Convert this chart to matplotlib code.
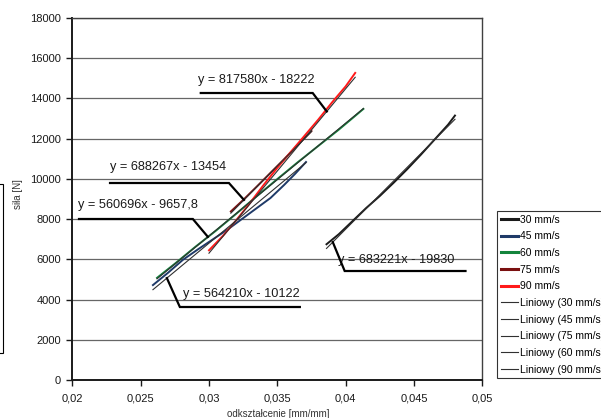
import numpy as np
import matplotlib.pyplot as plt
from matplotlib.patches import Rectangle

plt.rcParams['font.family'] = ['Liberation Sans', 'DejaVu Sans']

# measured series (strain [mm/mm], force [N])
x30 = [0.0386, 0.0395, 0.0405, 0.0415, 0.0425, 0.0435, 0.0445, 0.0455, 0.0465, 0.0475, 0.0480]
y30 = [6750, 7250, 7900, 8550, 9150, 9800, 10480, 11200, 11950, 12700, 13150]

x45 = [0.0259, 0.0270, 0.0281, 0.0292, 0.0303, 0.0314, 0.0325, 0.0336, 0.0345, 0.0355, 0.0363, 0.0371]
y45 = [4720, 5330, 5980, 6500, 7000, 7500, 8050, 8600, 9050, 9700, 10250, 10840]

x60 = [0.0262, 0.0275, 0.0290, 0.0305, 0.0320, 0.0335, 0.0350, 0.0365, 0.0380, 0.0395, 0.0405, 0.0413]
y60 = [5080, 5780, 6620, 7420, 8270, 9140, 9990, 10830, 11640, 12450, 13020, 13480]

x75 = [0.0316, 0.0325, 0.0335, 0.0345, 0.0355, 0.0365, 0.0375]
y75 = [8380, 8950, 9620, 10300, 10980, 11690, 12380]

x90 = [0.0300, 0.0310, 0.0320, 0.0330, 0.0340, 0.0350, 0.0360, 0.0370, 0.0380, 0.0390, 0.0400, 0.0407]
y90 = [6450, 7150, 7950, 8800, 9700, 10550, 11350, 12150, 12950, 13800, 14600, 15270]

labels = ['30 mm/s', '45 mm/s', '60 mm/s', '75 mm/s', '90 mm/s']
colors = ['#1a1a1a', '#1f3a68', '#13843c', '#7a1010', '#ff1a1a']

# linear trend lines: slope, intercept, label text
trend_order = ['30', '45', '75', '60', '90']
slopes = {'30': 683221, '45': 564210, '60': 560696, '75': 688267, '90': 817580}
intercepts = {'30': -19830, '45': -10122, '60': -9657.8, '75': -13454, '90': -18222}
eq_text = {'30': 'y = 683221x - 19830', '45': 'y = 564210x - 10122',
           '60': 'y = 560696x - 9657,8', '75': 'y = 688267x - 13454',
           '90': 'y = 817580x - 18222'}

# label boxes: text left x, text y, underline y, underline x0, x1, pointer x (on trend line)
label_pos = {
    '90': (0.0292, 14917, 14271, 0.0294, 0.03759, 0.03862, 'right'),
    '75': (0.02276, 10591, 9796, 0.02276, 0.03146, 0.03256, 'right'),
    '60': (0.02042, 8702, 8006, 0.02049, 0.02882, 0.02992, 'right'),
    '45': (0.02809, 4276, 3630, 0.02787, 0.03665, 0.02692, 'left'),
    '30': (0.03942, 5967, 5420, 0.03993, 0.04877, 0.03906, 'left'),
}

xticks = [0.02, 0.025, 0.03, 0.035, 0.04, 0.045, 0.05]
xticklabels = ['0,02', '0,025', '0,03', '0,035', '0,04', '0,045', '0,05']
yticks = list(range(0, 18001, 2000))

fig = plt.figure(figsize=(6.01, 4.18), dpi=100)
ax = fig.add_axes([0.1203, 0.0909, 0.6822, 0.8660])

series = {'30': (x30, y30), '45': (x45, y45), '60': (x60, y60), '75': (x75, y75), '90': (x90, y90)}
handles = []
for key, lab, col in zip(['30', '45', '60', '75', '90'], labels, colors):
    xs, ys = series[key]
    h, = ax.plot(xs, ys, color=col, lw=1.4, label=lab, zorder=3)
    handles.append(h)

for key in trend_order:
    xs = np.array(series[key][0])
    xx = np.array([xs.min(), xs.max()])
    h, = ax.plot(xx, slopes[key] * xx + intercepts[key], color='#303030', lw=0.8,
                 label='Liniowy (%s mm/s)' % key, zorder=4)
    handles.append(h)

for key, (tx, ty, uy, ux0, ux1, px, side) in label_pos.items():
    py = slopes[key] * px + intercepts[key]
    ax.text(tx, ty, eq_text[key], fontsize=9.2, va='center', ha='left', color='#1a1a1a', zorder=5)
    if side == 'right':
        ax.plot([ux0, ux1, px], [uy, uy, py], color='black', lw=1.6, zorder=5,
                solid_joinstyle='miter')
    else:
        ax.plot([ux1, ux0, px], [uy, uy, py], color='black', lw=1.6, zorder=5,
                solid_joinstyle='miter')

ax.set_xlim(0.02, 0.05)
ax.set_ylim(0, 18000)
ax.set_xticks(xticks)
ax.set_xticklabels(xticklabels)
ax.set_yticks(yticks)
ax.tick_params(labelsize=8, length=4, width=1, direction='out', colors='#1a1a1a')
ax.tick_params(axis='y', pad=4)
ax.tick_params(axis='x', pad=6)
ax.grid(axis='y', color='#666666', lw=0.9)
ax.set_axisbelow(True)
for s in ['left', 'bottom']:
    ax.spines[s].set_linewidth(1.4)
    ax.spines[s].set_color('#1a1a1a')
for s in ['top', 'right']:
    ax.spines[s].set_linewidth(1.0)
    ax.spines[s].set_color('#404040')

fig.text(18 / 601, 1 - 194 / 418, 'siła [N]', rotation=90, fontsize=7,
         ha='center', va='center', color='#333333')
fig.text(278 / 601, 1 - 414 / 418, 'odkształcenie [mm/mm]', fontsize=7,
         ha='center', va='center', color='#333333')

leg = fig.legend(handles=handles, loc='upper left', bbox_to_anchor=(497 / 601, 1 - 211 / 418),
                 fontsize=7.5, frameon=True, fancybox=False, borderpad=0.35,
                 handlelength=1.7, handletextpad=0.2, labelspacing=0.64, borderaxespad=0)
leg.get_frame().set_edgecolor('black')
leg.get_frame().set_linewidth(0.8)
for line in leg.get_lines()[:5]:
    line.set_linewidth(2.2)

# partially visible box at the left edge
fig.add_artist(Rectangle((-0.05, 1 - 353 / 418), 0.05 + 3 / 601, 169 / 418,
                         transform=fig.transFigure, fill=False, edgecolor='black', lw=0.8))

fig.savefig('out.png', dpi=100)
